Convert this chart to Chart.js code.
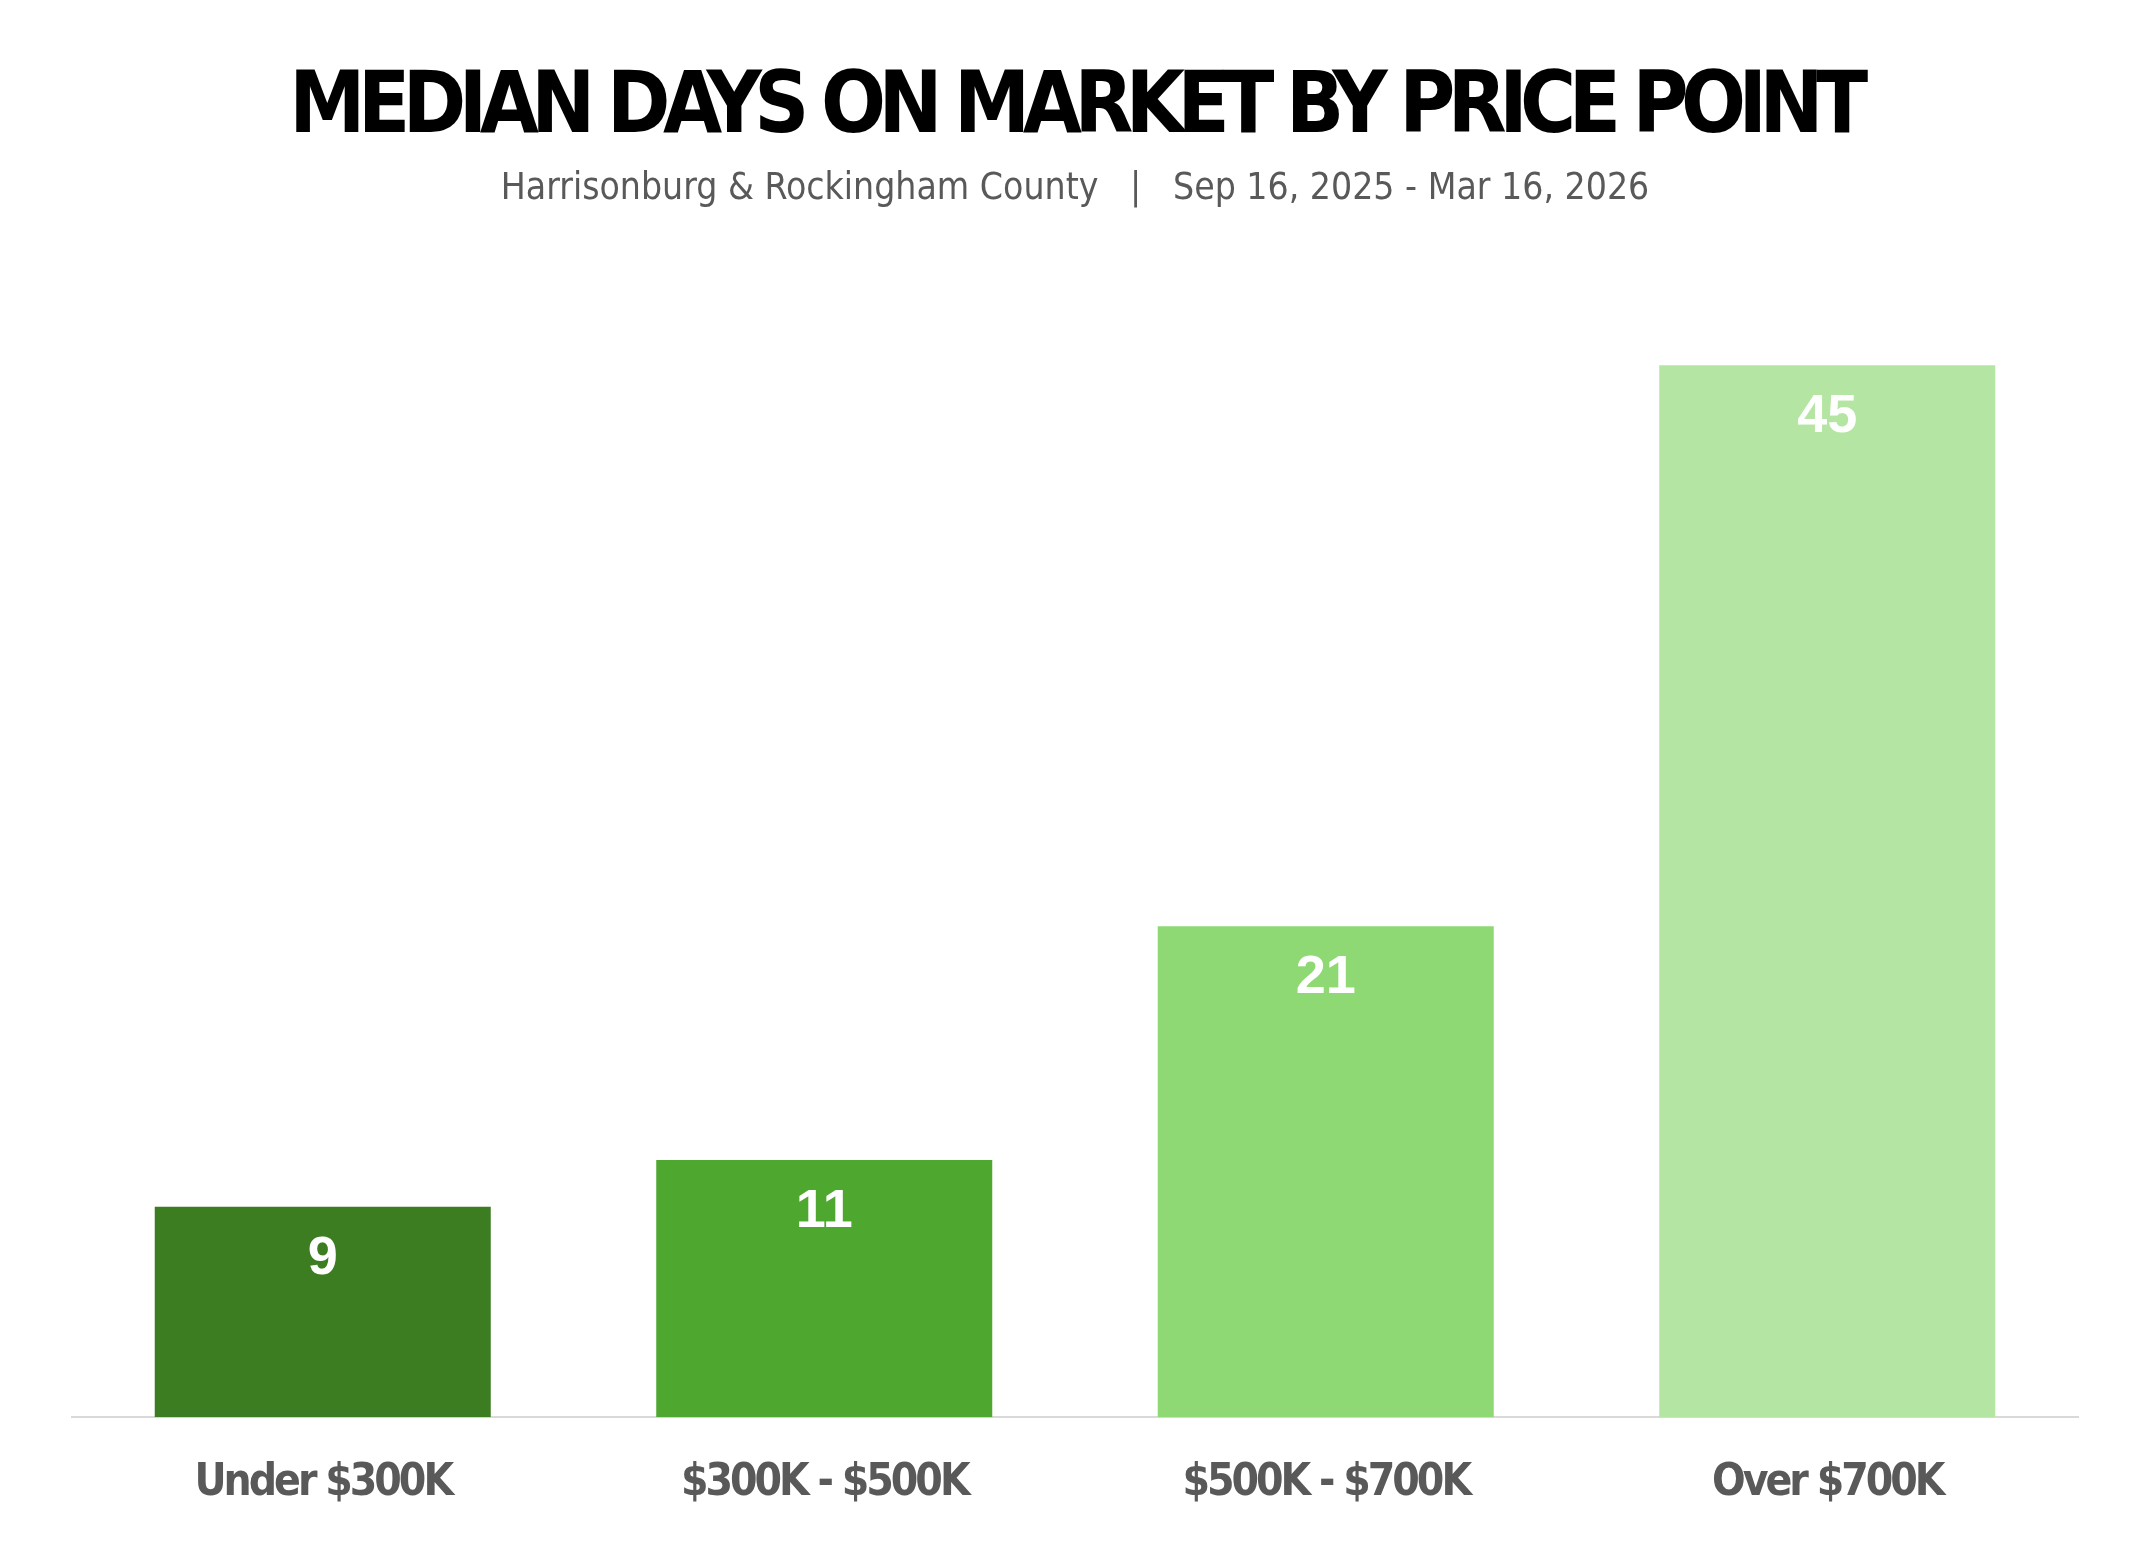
<!DOCTYPE html>
<html>
<head>
<meta charset="utf-8">
<script src="https://cdn.jsdelivr.net/npm/chart.js@4"></script>
<style>
  html, body { margin: 0; padding: 0; background: #fff; }
  #chart { display: block; }
</style>
</head>
<body>
<canvas id="chart" width="2150" height="1560"></canvas>
<script>
var categories = ['Under $300K', '$300K - $500K', '$500K - $700K', 'Over $700K'];
var medianDays = [9, 11, 21, 45];
var barColors = ['#3C7D22', '#4EA72E', '#8ED973', '#B4E5A2'];
var titleText = 'MEDIAN DAYS ON MARKET BY PRICE POINT';
var subtitleText = 'Harrisonburg & Rockingham County   |   Sep 16, 2025 - Mar 16, 2026';

var narrow = '"Liberation Sans Narrow", "DejaVu Sans Condensed", "Roboto", sans-serif';

// tighten letter spacing on one draw method so the text looks condensed
function tighten(obj, method, spacing) {
  if (!obj || obj['_tight_' + method]) return;
  var orig = obj[method];
  obj[method] = function () {
    var ctx = this.ctx;
    ctx.save();
    ctx.letterSpacing = spacing;
    orig.apply(this, arguments);
    ctx.restore();
  };
  obj['_tight_' + method] = true;
}

var condense = {
  id: 'condense',
  beforeDraw: function (chart) {
    tighten(chart.titleBlock, 'draw', '-7.5px');
    tighten(chart.scales.x, 'drawLabels', '-3px');
  }
};

// white value labels drawn just inside the top of each bar
var valueLabels = {
  id: 'valueLabels',
  afterDatasetsDraw: function (chart) {
    var ctx = chart.ctx;
    var meta = chart.getDatasetMeta(0);
    ctx.save();
    ctx.fillStyle = '#ffffff';
    ctx.font = 'bold 54px "Liberation Sans", Arial, sans-serif';
    ctx.textAlign = 'center';
    ctx.textBaseline = 'middle';
    for (var i = 0; i < meta.data.length; i++) {
      var bar = meta.data[i];
      ctx.fillText(String(medianDays[i]), bar.x, bar.y + 52);
    }
    ctx.restore();
  }
};

new Chart(document.getElementById('chart').getContext('2d'), {
  type: 'bar',
  data: {
    labels: categories,
    datasets: [{
      data: medianDays,
      backgroundColor: barColors,
      borderWidth: 0,
      categoryPercentage: 1,
      barPercentage: 0.67
    }]
  },
  options: {
    responsive: false,
    animation: false,
    devicePixelRatio: 1,
    layout: { padding: { top: 38, left: 72, right: 72, bottom: 10 } },
    plugins: {
      legend: { display: false },
      tooltip: { enabled: false },
      title: {
        display: true,
        text: titleText,
        color: '#000000',
        font: { family: narrow, size: 85, weight: 'bold', lineHeight: 1.2 },
        padding: { top: 21, bottom: 2 }
      },
      subtitle: {
        display: true,
        text: subtitleText,
        color: '#595959',
        font: { family: narrow, size: 37, weight: 'normal', lineHeight: 1.2 },
        padding: { top: 4, bottom: 37 }
      }
    },
    scales: {
      x: {
        grid: { display: false, drawTicks: false },
        border: { display: true, color: '#D9D9D9', width: 2 },
        ticks: {
          color: '#595959',
          padding: 40,
          font: { family: narrow, size: 44, weight: 'bold', lineHeight: 1.2 }
        }
      },
      y: {
        display: false,
        min: 0,
        max: 50
      }
    }
  },
  plugins: [condense, valueLabels]
});
</script>
</body>
</html>
